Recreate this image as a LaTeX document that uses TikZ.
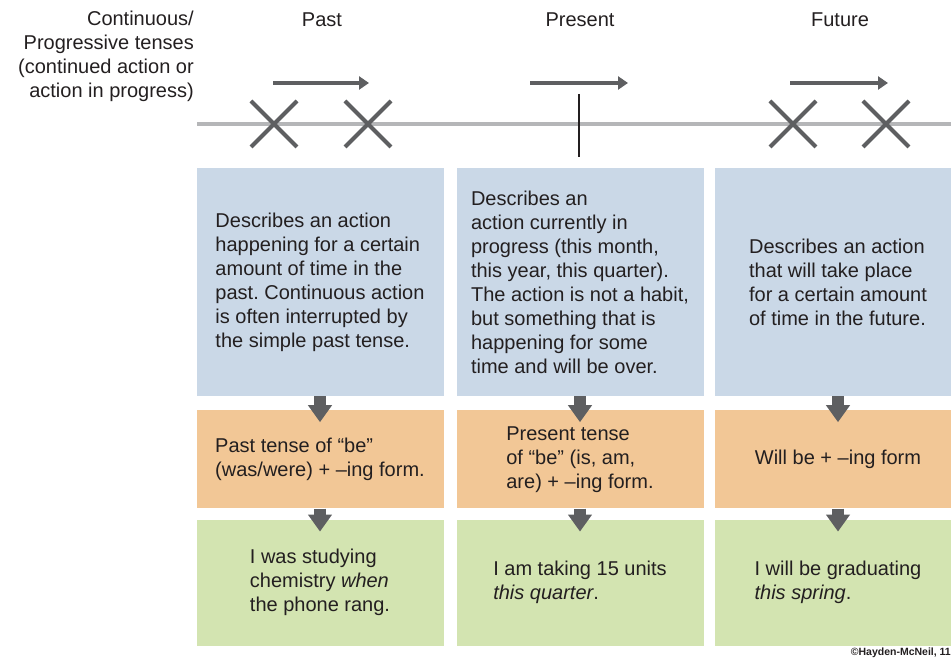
\documentclass[tikz,border=0pt]{standalone}
\usepackage{fontspec}
\setmainfont{Liberation Sans}
\usepackage{tikz}
\usetikzlibrary{calc}
\usetikzlibrary{positioning}
\usetikzlibrary{arrows.meta}
\usetikzlibrary{shapes.misc}
\frenchspacing
\definecolor{inkblack}{HTML}{231F20}
\definecolor{descblue}{HTML}{CAD8E7}
\definecolor{formorange}{HTML}{F2C796}
\definecolor{examplegreen}{HTML}{D3E4B1}
\definecolor{linegray}{HTML}{B5B6B8}
\definecolor{markgray}{HTML}{5E5F61}
\tikzstyle{descbox} = [fill=descblue, minimum width=247pt, minimum height=228pt, align=left, inner sep=0pt]
\tikzstyle{formbox} = [fill=formorange, minimum width=247pt, minimum height=98pt, align=left, inner sep=0pt]
\tikzstyle{examplebox} = [fill=examplegreen, minimum width=247pt, minimum height=126pt, align=left, inner sep=0pt]
\tikzstyle{pointmark} = [cross out, draw=markgray, line width=4pt, minimum size=42pt, inner sep=0pt]
\tikzstyle{spanarrow} = [draw=markgray, line width=3.5pt, -{Triangle[length=10pt,width=13pt]}]
\tikzstyle{stepdown} = [draw=markgray, line width=12pt, -{Triangle[length=17pt,width=23pt]}, shorten >=-12pt]

\begin{document}
\begin{tikzpicture}[x=1pt, y=1pt, font=\fontsize{20}{24}\selectfont, text=inkblack]
  \useasboundingbox (0,0) rectangle (951,660);

  % headings
  \node[align=right, anchor=east, inner sep=0pt] (title) at (194,604) {Continuous/\\Progressive tenses\\(continued action or\\action in progress)};
  \node (pasthead) at (322,640) {Past};
  \node (presenthead) at (580,640) {Present};
  \node (futurehead) at (840,640) {Future};

  % time line
  \coordinate (linestart) at (197,536);
  \coordinate (lineend) at (951,536);
  \draw[linegray, line width=4.5pt] (linestart) -- (lineend);
  \node[pointmark] (pastx1) at (274,536) {};
  \node[pointmark] (pastx2) at (368,536) {};
  \node[pointmark] (futurex1) at (793,536) {};
  \node[pointmark] (futurex2) at (886,536) {};
  \coordinate (nowtop) at (579,566);
  \coordinate (nowbot) at (579,503);
  \draw[inkblack, line width=1.5pt] (nowtop) -- (nowbot);

  \draw[spanarrow] ($(pastx1)+(-1,41)$) -- ($(pastx2)+(1,41)$);
  \draw[spanarrow] ($(nowtop)+(-49,11)$) -- ($(nowtop)+(49,11)$);
  \draw[spanarrow] ($(futurex1)+(-3,41)$) -- ($(futurex2)+(2,41)$);

  % past column
  \node[descbox] (pastdesc) at (320,378) {Describes an action\\happening for a certain\\amount of time in the\\past. Continuous action\\is often interrupted by\\the simple past tense.};
  \node[formbox, below=14pt of pastdesc] (pastform) {Past tense of “be”\\(was/were) + –ing form.};
  \node[examplebox, below=11pt of pastform] (pastexample) {I was studying\\chemistry \textit{when}\\the phone rang.};

  % present column
  \node[descbox] (presentdesc) at (580,378) {Describes an\\action currently in\\progress (this month,\\this year, this quarter).\\The action is not a habit,\\but something that is\\happening for some\\time and will be over.};
  \node[formbox, below=14pt of presentdesc] (presentform) {Present tense\\of “be” (is, am,\\are) + –ing form.};
  \node[examplebox, below=11pt of presentform] (presentexample) {I am taking 15 units\\\textit{this quarter}.};

  % future column
  \node[descbox] (futuredesc) at (838,378) {Describes an action\\that will take place\\for a certain amount\\of time in the future.};
  \node[formbox, below=14pt of futuredesc] (futureform) {Will be + –ing form};
  \node[examplebox, below=11pt of futureform] (futureexample) {I will be graduating\\\textit{this spring}.};

  \draw[stepdown] (pastdesc.south) -- (pastform.north);
  \draw[stepdown] (pastform.south) -- (pastexample.north);
  \draw[stepdown] (presentdesc.south) -- (presentform.north);
  \draw[stepdown] (presentform.south) -- (presentexample.north);
  \draw[stepdown] (futuredesc.south) -- (futureform.north);
  \draw[stepdown] (futureform.south) -- (futureexample.north);

  \node[anchor=east, inner sep=0pt, font=\fontsize{10.5}{12}\selectfont\bfseries] (credit) at (951,7) {©Hayden-McNeil, 11};
\end{tikzpicture}
\end{document}
